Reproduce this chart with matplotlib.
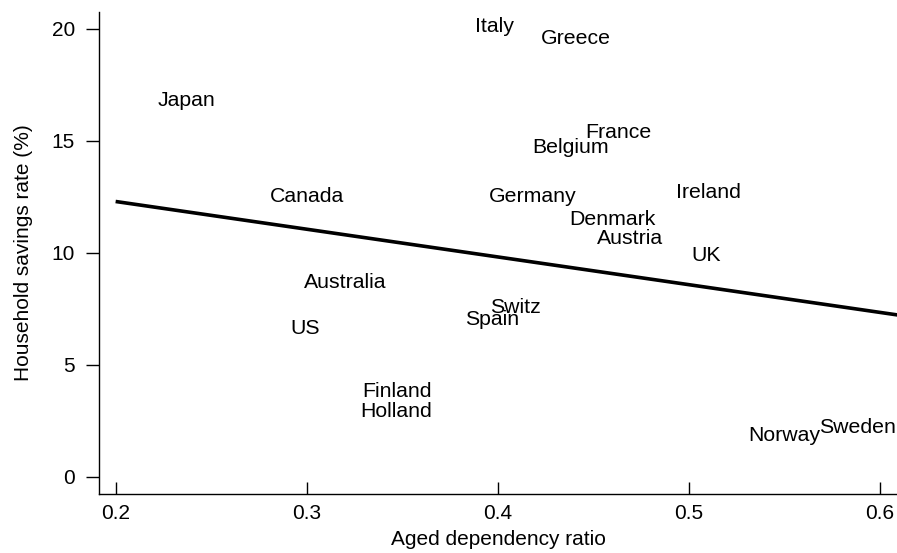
import matplotlib
matplotlib.use("Agg")
import matplotlib.pyplot as plt

plt.rcParams['font.family'] = ['Liberation Sans', 'DejaVu Sans']

countries = ["Japan", "Canada", "Italy", "Greece", "France", "Belgium", "Germany",
             "Ireland", "Denmark", "Austria", "UK", "Australia", "US", "Finland",
             "Holland", "Switz", "Spain", "Norway", "Sweden"]
aged_ratio = [0.237, 0.300, 0.398, 0.441, 0.463, 0.438, 0.418,
              0.510, 0.460, 0.469, 0.509, 0.320, 0.299, 0.347,
              0.347, 0.409, 0.397, 0.550, 0.588]
savings = [16.91, 12.58, 20.17, 19.65, 15.45, 14.77, 12.59,
           12.77, 11.56, 10.71, 9.97, 8.78, 6.71, 3.88,
           3.00, 7.65, 7.12, 1.91, 2.27]

fit_x = [0.2, 0.62]
fit_y = [12.29, 7.09]

x_ticks = [0.2, 0.3, 0.4, 0.5, 0.6]
y_ticks = [0, 5, 10, 15, 20]

fig = plt.figure(figsize=(8.97, 5.53), dpi=100)
ax = fig.add_axes([99/897, 59/553, 798/897, 482/553])

for name, xv, yv in zip(countries, aged_ratio, savings):
    ax.text(xv, yv, name, ha='center', va='center_baseline', fontsize=15.3, color='black')

ax.plot(fit_x, fit_y, color='black', lw=2.6, solid_capstyle='butt')

ax.set_xlim(0.1913, 0.6089)
ax.set_ylim(-0.77, 20.75)
ax.set_xticks(x_ticks)
ax.set_xticklabels([str(t) for t in x_ticks])
ax.set_yticks(y_ticks)
ax.set_yticklabels([str(t) for t in y_ticks])

ax.spines['top'].set_visible(False)
ax.spines['right'].set_visible(False)
for s in ('left', 'bottom'):
    ax.spines[s].set_linewidth(1.0)
    ax.spines[s].set_color('black')

ax.tick_params(axis='x', direction='in', length=8.6, width=1.0, pad=7.5, labelsize=15, colors='black')
ax.tick_params(axis='y', direction='out', length=9.4, width=1.0, pad=7.9, labelsize=15, colors='black')

ax.set_xlabel("Aged dependency ratio", fontsize=15)
ax.set_ylabel("Household savings rate (%)", fontsize=15)
ax.xaxis.set_label_coords(0.5, -0.0737)
ax.yaxis.set_label_coords(-0.0821, 0.5)

fig.savefig("out.png", dpi=100)
